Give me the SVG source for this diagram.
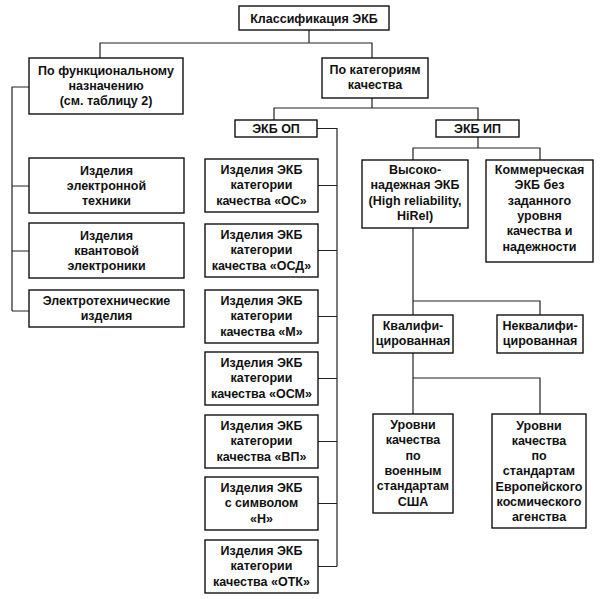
<svg xmlns="http://www.w3.org/2000/svg" width="604" height="599" viewBox="0 0 604 599">
<style>
rect.b{fill:#fff;stroke:#111;stroke-width:1.4}
text{font-family:"Liberation Sans",Arial,sans-serif;font-size:12.5px;font-weight:bold;fill:#111;text-anchor:middle}
#connectors path{fill:none;stroke:#222;stroke-width:1.2}
</style>
<rect width="604" height="599" fill="#fff"/>
<g id="connectors">
<path d="M309,29V43M100,58V43H372V58"/>
<path d="M29,87H12V311M12,186H29M12,251H29M12,311H29"/>
<path d="M372,98V108M274,120V108H478V120"/>
<path d="M317,128.5H337V566.5M318,185.5H337M318,250.5H337M318,316.5H337M318,378.5H337M318,441.5H337M318,503.5H337M318,566.5H337"/>
<path d="M478,137V148M413,160V148H540V160"/>
<path d="M413,228V315M413,301H540V315"/>
<path d="M413,353V414M413,378H540V414"/>
</g>
<g id="n-root"><rect class="b" x="239" y="6" width="150" height="24"/><text x="314" y="23">Классификация ЭКБ</text></g>
<g id="n-func"><rect class="b" x="29" y="58" width="154" height="56"/><text x="106" y="75">По функциональному</text><text x="106" y="90">назначению</text><text x="106" y="105">(см. таблицу 2)</text></g>
<g id="n-qual"><rect class="b" x="322" y="58" width="106" height="40"/><text x="375" y="74">По категориям</text><text x="375" y="89">качества</text></g>
<g id="n-op"><rect class="b" x="235" y="120" width="82" height="17"/><text x="276" y="133">ЭКБ ОП</text></g>
<g id="n-ip"><rect class="b" x="436" y="120" width="83" height="17"/><text x="477.5" y="133">ЭКБ ИП</text></g>
<g id="n-l1"><rect class="b" x="29" y="158" width="155" height="55"/><text x="106.5" y="175">Изделия</text><text x="106.5" y="190">электронной</text><text x="106.5" y="205">техники</text></g>
<g id="n-l2"><rect class="b" x="29" y="223" width="155" height="55"/><text x="106.5" y="240">Изделия</text><text x="106.5" y="255">квантовой</text><text x="106.5" y="270">электроники</text></g>
<g id="n-l3"><rect class="b" x="29" y="290" width="155" height="37"/><text x="106.5" y="305">Электротехнические</text><text x="106.5" y="320">изделия</text></g>
<g id="n-m1"><rect class="b" x="205" y="159" width="113" height="53"/><text x="261.5" y="173.5">Изделия ЭКБ</text><text x="261.5" y="189">категории</text><text x="261.5" y="204.5">качества «ОС»</text></g>
<g id="n-m2"><rect class="b" x="205" y="224" width="113" height="53"/><text x="261.5" y="238.5">Изделия ЭКБ</text><text x="261.5" y="254">категории</text><text x="261.5" y="269.5">качества «ОСД»</text></g>
<g id="n-m3"><rect class="b" x="205" y="290" width="113" height="53"/><text x="261.5" y="304.5">Изделия ЭКБ</text><text x="261.5" y="320">категории</text><text x="261.5" y="335.5">качества «М»</text></g>
<g id="n-m4"><rect class="b" x="205" y="352" width="113" height="53"/><text x="261.5" y="366.5">Изделия ЭКБ</text><text x="261.5" y="382">категории</text><text x="261.5" y="397.5">качества «ОСМ»</text></g>
<g id="n-m5"><rect class="b" x="205" y="415" width="113" height="53"/><text x="261.5" y="429.5">Изделия ЭКБ</text><text x="261.5" y="445">категории</text><text x="261.5" y="460.5">качества «ВП»</text></g>
<g id="n-m6"><rect class="b" x="205" y="477" width="113" height="53"/><text x="261.5" y="491.5">Изделия ЭКБ</text><text x="261.5" y="507">с символом</text><text x="261.5" y="522.5">«Н»</text></g>
<g id="n-m7"><rect class="b" x="205" y="540" width="113" height="53"/><text x="261.5" y="554.5">Изделия ЭКБ</text><text x="261.5" y="570">категории</text><text x="261.5" y="585.5">качества «ОТК»</text></g>
<g id="n-hirel"><rect class="b" x="362" y="160" width="106" height="68"/><text x="415" y="174">Высоко-</text><text x="415" y="189.3">надежная ЭКБ</text><text x="415" y="204.6">(High reliability,</text><text x="415" y="219.9">HiRel)</text></g>
<g id="n-comm"><rect class="b" x="486" y="160" width="107" height="102"/><text x="539.5" y="174">Коммерческая</text><text x="539.5" y="189.3">ЭКБ без</text><text x="539.5" y="204.6">заданного</text><text x="539.5" y="219.9">уровня</text><text x="539.5" y="235.2">качества и</text><text x="539.5" y="250.5">надежности</text></g>
<g id="n-kval"><rect class="b" x="373" y="315" width="80" height="38"/><text x="413" y="329.5">Квалифи-</text><text x="413" y="344.5">цированная</text></g>
<g id="n-nekval"><rect class="b" x="497" y="315" width="86" height="38"/><text x="540" y="329.5">Неквалифи-</text><text x="540" y="344.5">цированная</text></g>
<g id="n-usa"><rect class="b" x="373" y="414" width="80" height="99"/><text x="413" y="429">Уровни</text><text x="413" y="444.3">качества</text><text x="413" y="459.6">по</text><text x="413" y="474.9">военным</text><text x="413" y="490.2">стандартам</text><text x="413" y="505.5">США</text></g>
<g id="n-esa"><rect class="b" x="492" y="414" width="94" height="114"/><text x="539" y="429.5">Уровни</text><text x="539" y="444.8">качества</text><text x="539" y="460.1">по</text><text x="539" y="475.4">стандартам</text><text x="539" y="490.7">Европейского</text><text x="539" y="506">космического</text><text x="539" y="521.3">агенства</text></g>
</svg>
